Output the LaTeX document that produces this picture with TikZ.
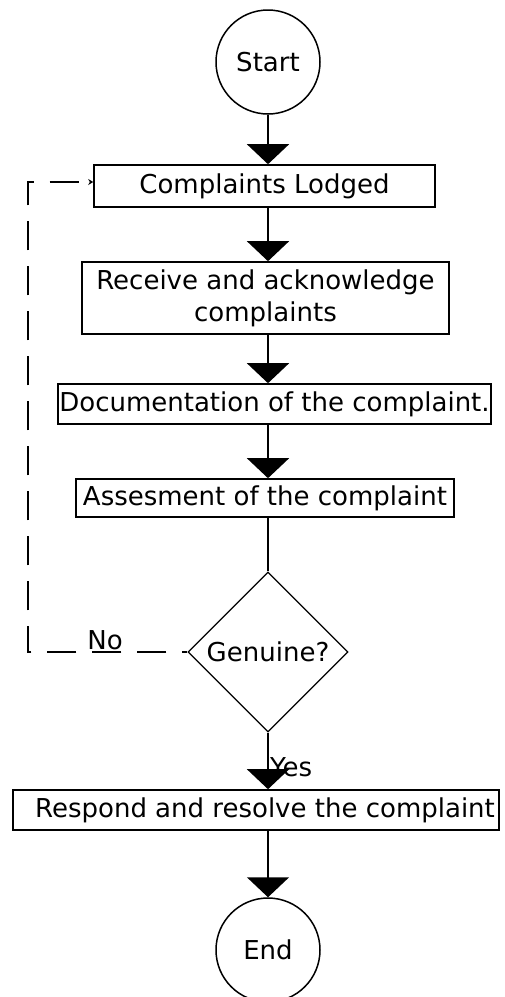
\documentclass[tikz,border=0pt]{standalone}
\usepackage{fontspec}
\setmainfont{DejaVu Sans}
\usetikzlibrary{arrows.meta,shapes.geometric}
\begin{document}
\begin{tikzpicture}[x=1pt,y=-1pt,
  font=\fontsize{26}{32}\selectfont,
  flowline/.style={line width=1.6pt,draw=black},
  bigarrow/.style={flowline,-{Triangle[width=42pt,length=20pt]}},
  terminal/.style={circle,draw,line width=1.5pt,minimum size=104pt,inner sep=0pt},
  stepbox/.style={rectangle,draw,line width=1.6pt,inner sep=0pt,align=center},
  decision/.style={diamond,draw,line width=1.2pt,minimum width=160pt,minimum height=160pt,inner sep=0pt},
  loopline/.style={line width=1.6pt,dash pattern=on 29pt off 16pt,dash phase=24pt,-{Stealth[length=5pt,width=6pt]}}]
\useasboundingbox (0,0) rectangle (504,997);

\node[terminal] (start) at (268,62) {Start};
\node[stepbox,minimum width=341pt,minimum height=42pt] (cl) at (264.5,186) {Complaints Lodged};
\node[stepbox,minimum width=367pt,minimum height=72pt] (rec) at (265.5,298) {Receive and acknowledge\\complaints};
\node[stepbox,minimum width=433pt,minimum height=40pt] (doc) at (274.5,404) {Documentation of the complaint.};
\node[stepbox,minimum width=378pt,minimum height=38pt] (ass) at (265,498) {Assesment of the complaint};
\node[decision] (gen) at (268,652) {Genuine?};
\node[stepbox,minimum width=486pt,minimum height=40pt] (res) at (256,810) {\hspace*{18pt}Respond and resolve the complaint};
\node[terminal] (end) at (268,950) {End};

\draw[bigarrow] (start) -- (start |- cl.north);
\draw[bigarrow] (cl.south -| start) -- (start |- rec.north);
\draw[bigarrow] (rec.south -| start) -- (start |- doc.north);
\draw[bigarrow] (doc.south -| start) -- (start |- ass.north);
\draw[flowline] (ass.south -| start) -- (gen.north);
\draw[bigarrow] (gen.south) -- (start |- res.north);
\draw[bigarrow] (res.south -| start) -- (end);

\node[anchor=west,inner sep=0pt] (yes) at (270,767) {Yes};

\coordinate (lb) at (28,652);
\coordinate (lt) at (28,182);
\draw[loopline] (gen.west) -- (lb) -- (lt) -- (cl.west |- lt);
\node[inner sep=0pt] (no) at (105,640) {No};
\end{tikzpicture}
\end{document}
